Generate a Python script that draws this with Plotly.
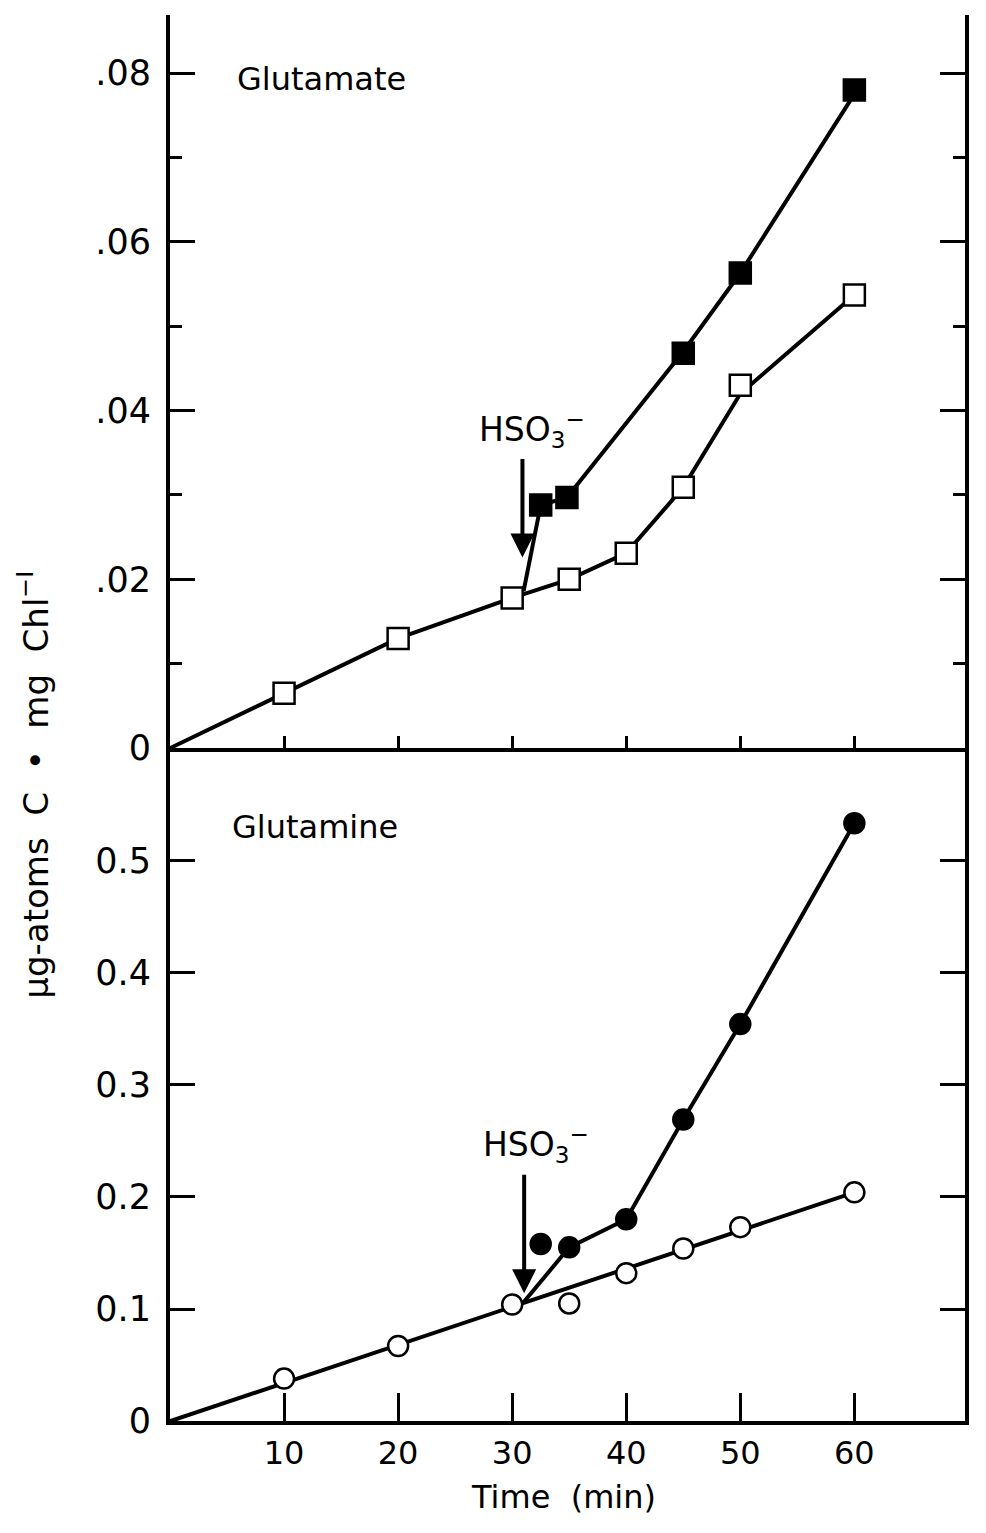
import plotly.graph_objects as go

# ---------------- data ----------------
# Glutamate (top panel)
glu_ctrl_t = [10, 20, 30, 35, 40, 45, 50, 60]
glu_ctrl_v = [0.0065, 0.0130, 0.0178, 0.0200, 0.0231, 0.0309, 0.0430, 0.0537]
glu_ctrl_line_t = [0, 10, 20, 30, 35, 40, 45, 50, 60]
glu_ctrl_line_v = [0, 0.0065, 0.0130, 0.0178, 0.0200, 0.0231, 0.0309, 0.0420, 0.0537]

glu_hso_t = [32.5, 34.8, 45, 50, 60]
glu_hso_v = [0.0288, 0.0297, 0.0468, 0.0563, 0.0780]
glu_hso_line_t = [31, 32.5, 34.8, 45, 50, 60]
glu_hso_line_v = [0.0186, 0.0288, 0.0297, 0.0470, 0.0563, 0.0775]

# Glutamine (bottom panel)
gln_ctrl_t = [10, 20, 30, 35, 40, 45, 50, 60]
gln_ctrl_v = [0.038, 0.067, 0.104, 0.105, 0.132, 0.154, 0.173, 0.204]
gln_ctrl_line_t = [0, 60]
gln_ctrl_line_v = [0, 0.204]

gln_hso_t = [32.5, 35, 40, 45, 50, 60]
gln_hso_v = [0.158, 0.155, 0.180, 0.269, 0.354, 0.533]
gln_hso_line_t = [31, 35, 40, 45, 50, 60]
gln_hso_line_v = [0.106, 0.155, 0.180, 0.269, 0.354, 0.533]

x_ticks = [10, 20, 30, 40, 50, 60]
top_tickvals = [0, 0.02, 0.04, 0.06, 0.08]
top_ticktext = ["0", ".02", ".04", ".06", ".08"]
top_minor = [0.01, 0.03, 0.05, 0.07]
bot_tickvals = [0, 0.1, 0.2, 0.3, 0.4, 0.5]
bot_ticktext = ["0", "0.1", "0.2", "0.3", "0.4", "0.5"]

# ---------------- figure ----------------
FONT = "DejaVu Sans"
LW = 4
fig = go.Figure()

def line(t, v, xa, ya):
    fig.add_trace(go.Scatter(x=t, y=v, mode="lines", xaxis=xa, yaxis=ya,
                             line=dict(color="black", width=LW), showlegend=False,
                             hoverinfo="skip"))

def pts(t, v, xa, ya, symbol, fill):
    fig.add_trace(go.Scatter(x=t, y=v, mode="markers", xaxis=xa, yaxis=ya,
                             marker=dict(symbol=symbol, size=21 if "square" in symbol else 20,
                                         color="black" if fill else "white",
                                         line=dict(color="black", width=2.5)),
                             showlegend=False))

line(glu_ctrl_line_t, glu_ctrl_line_v, "x2", "y2")
line(glu_hso_line_t, glu_hso_line_v, "x2", "y2")
pts(glu_ctrl_t, glu_ctrl_v, "x2", "y2", "square", False)
pts(glu_hso_t, glu_hso_v, "x2", "y2", "square", True)

line(gln_ctrl_line_t, gln_ctrl_line_v, "x", "y")
line(gln_hso_line_t, gln_hso_line_v, "x", "y")
pts(gln_ctrl_t, gln_ctrl_v, "x", "y", "circle", False)
pts(gln_hso_t, gln_hso_v, "x", "y", "circle", True)

XR = [0, 69.7]
XD = [170 / 986, 965 / 986]
YB = [(1533 - 1440) / 1533, (1533 - 758) / 1533]
YT = [(1533 - 758) / 1533, (1533 - 15) / 1533]

base_x = dict(range=XR, domain=XD, tickmode="array", tickvals=x_ticks,
              showline=True, linecolor="black", linewidth=LW, showgrid=False,
              zeroline=False, ticks="inside", tickcolor="black", tickwidth=3)

fig.update_layout(
    width=986, height=1533,
    margin=dict(l=0, r=0, t=0, b=0),
    paper_bgcolor="white", plot_bgcolor="white",
    font=dict(family=FONT, color="black"),
    xaxis=dict(base_x, anchor="y", side="bottom", ticklen=28,
               tickfont=dict(size=32, family=FONT), ticklabelstandoff=0),
    xaxis4=dict(base_x, anchor="y", side="top", overlaying="x", ticklen=12,
                showticklabels=False),
    xaxis2=dict(base_x, anchor="y2", side="bottom", ticklen=12,
                showticklabels=False),
    xaxis3=dict(base_x, anchor="y2", side="top", overlaying="x2", ticklen=28,
                showticklabels=False),
    yaxis=dict(range=[0, 0.6], domain=YB, anchor="x", tickmode="array",
               tickvals=bot_tickvals, ticktext=bot_ticktext,
               showline=True, linecolor="black", linewidth=LW, mirror="ticks",
               ticks="inside", ticklen=25, tickwidth=3, tickcolor="black",
               showgrid=False, zeroline=False, tickfont=dict(size=35, family=FONT),
               ticklabelstandoff=8),
    yaxis2=dict(range=[0, 0.0869], domain=YT, anchor="x2", tickmode="array",
                tickvals=top_tickvals, ticktext=top_ticktext,
                showline=True, linecolor="black", linewidth=LW, mirror="ticks",
                ticks="inside", ticklen=25, tickwidth=3, tickcolor="black",
                minor=dict(tickmode="array", tickvals=top_minor, ticks="inside",
                           ticklen=12, tickwidth=3, tickcolor="black", showgrid=False),
                showgrid=False, zeroline=False, tickfont=dict(size=35, family=FONT),
                ticklabelstandoff=8),
)

ann = []
ann.append(dict(text="Glutamate", x=235 / 986, y=(1533 - 80) / 1533, xref="paper", yref="paper",
                xanchor="left", yanchor="middle", showarrow=False, font=dict(size=32, family=FONT)))
ann.append(dict(text="Glutamine", x=230 / 986, y=(1533 - 838) / 1533, xref="paper", yref="paper",
                xanchor="left", yanchor="middle", showarrow=False, font=dict(size=32, family=FONT)))
ann.append(dict(text="Time  (min)", x=563 / 986, y=(1533 - 1517) / 1533, xref="paper", yref="paper",
                xanchor="center", yanchor="middle", showarrow=False, font=dict(size=32, family=FONT)))
ann.append(dict(text="\u03bcg-atoms  C  \u2022  mg  Chl<sup>\u2212I</sup>", x=33 / 986, y=(1533 - 795) / 1533,
                xref="paper", yref="paper", textangle=-90, xanchor="center", yanchor="middle",
                showarrow=False, font=dict(size=34, family=FONT)))
# HSO3- labels and arrows
ann.append(dict(text="HSO<sub>3</sub><sup>\u2212</sup>", x=31.7, y=0.0378, xref="x2", yref="y2",
                showarrow=False, font=dict(size=33, family=FONT)))
ann.append(dict(text="", x=30.9, y=0.0226, xref="x2", yref="y2", ax=0, ay=-100,
                showarrow=True, arrowhead=2, arrowsize=1.2, arrowwidth=4, arrowcolor="black"))
ann.append(dict(text="HSO<sub>3</sub><sup>\u2212</sup>", x=32.1, y=0.2465, xref="x", yref="y",
                showarrow=False, font=dict(size=33, family=FONT)))
ann.append(dict(text="", x=31.05, y=0.114, xref="x", yref="y", ax=0, ay=-120,
                showarrow=True, arrowhead=2, arrowsize=1.2, arrowwidth=4, arrowcolor="black"))
fig.update_layout(annotations=ann)

fig.write_html("out.html")
